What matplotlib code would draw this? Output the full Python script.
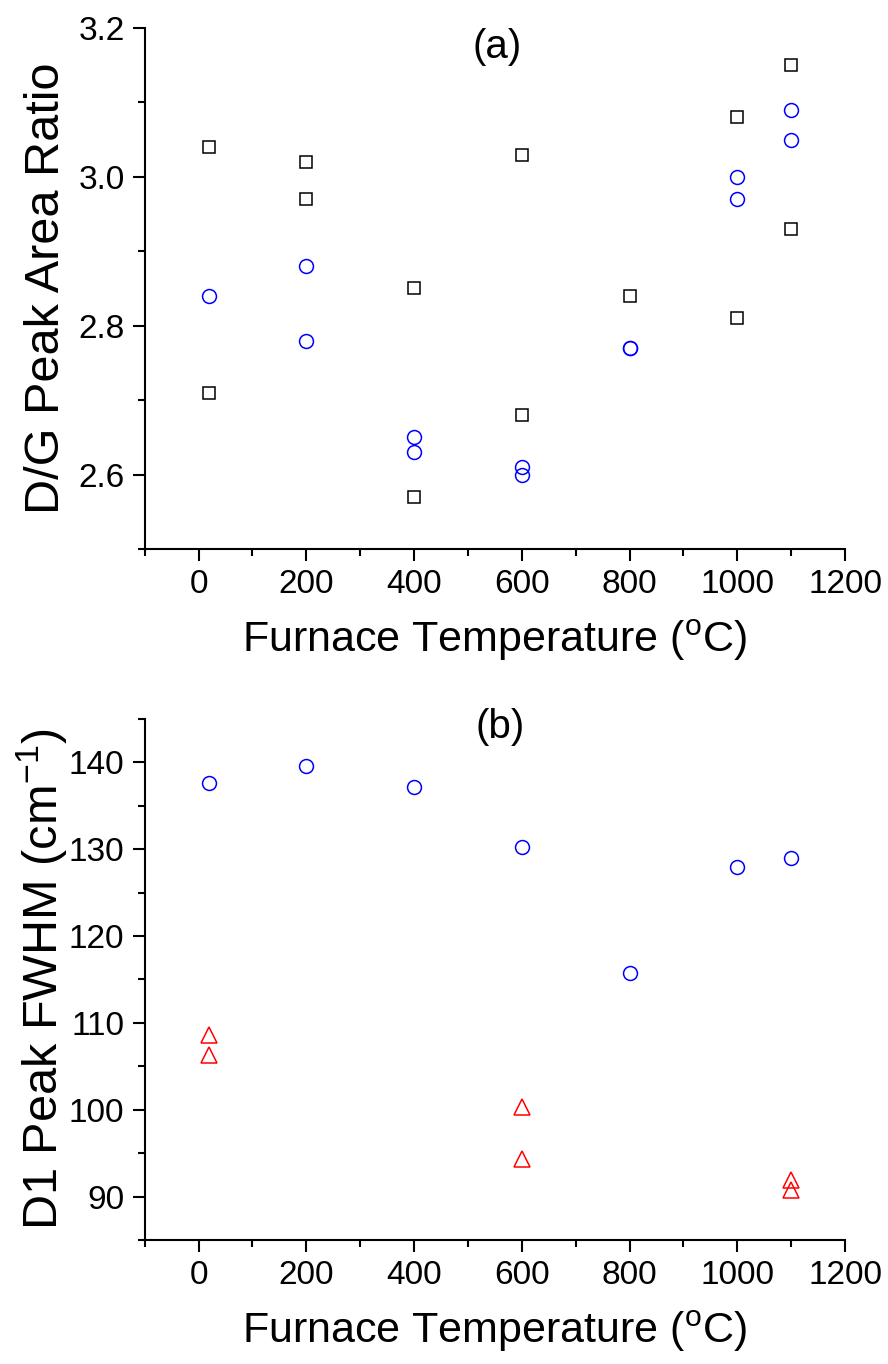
import numpy as np
import matplotlib
matplotlib.use("Agg")
import matplotlib.pyplot as plt
from matplotlib import font_manager
from matplotlib.ticker import MultipleLocator

plt.rcParams["font.family"] = ["Liberation Sans", "DejaVu Sans"]
plt.rcParams["mathtext.fontset"] = "custom"
plt.rcParams["mathtext.rm"] = "Liberation Sans"
plt.rcParams["mathtext.it"] = "Liberation Sans:italic"

# --- panel (a) : D/G peak area ratio ---
a_sq_x = [20, 20, 200, 200, 400, 400, 600, 600, 800, 1000, 1000, 1100, 1100]
a_sq_y = [3.04, 2.71, 3.02, 2.97, 2.85, 2.57, 3.03, 2.68, 2.84, 3.08, 2.81, 3.15, 2.93]
a_ci_x = [20, 200, 200, 400, 400, 600, 600, 800, 800, 1000, 1000, 1100, 1100]
a_ci_y = [2.84, 2.88, 2.78, 2.65, 2.63, 2.61, 2.60, 2.77, 2.77, 3.00, 2.97, 3.09, 3.05]

# --- panel (b) : D1 peak FWHM ---
b_ci_x = [20, 200, 400, 600, 800, 1000, 1100]
b_ci_y = [137.6, 139.6, 137.2, 130.2, 115.8, 127.9, 129.0]
b_tr_x = [20, 20, 600, 600, 1100, 1100]
b_tr_y = [108.6, 106.3, 100.3, 94.3, 91.9, 90.8]

# x titles look tall/narrow in the original: use the narrow face if present
names = {f.name for f in font_manager.fontManager.ttflist}
if "Liberation Sans Narrow" in names:
    xlab_font, xlab_size = "Liberation Sans Narrow", 36
else:
    xlab_font, xlab_size = "Liberation Sans", 31
XLABEL = r"Furnace Temperature ($^{\mathrm{o}}$C)"

fig = plt.figure(figsize=(8.88, 13.64), dpi=100)
ax1 = fig.add_axes([0.163, 0.5975, 0.7886, 0.382])
ax2 = fig.add_axes([0.163, 0.0909, 0.7886, 0.382])

ax1.plot(a_sq_x, a_sq_y, "s", ms=8.7, mfc="none", mec="black", mew=1.1)
ax1.plot(a_ci_x, a_ci_y, "o", ms=10, mfc="none", mec="blue", mew=1.1)
ax1.set_ylim(2.5, 3.2)
ax1.yaxis.set_minor_locator(MultipleLocator(0.1))
ax1.set_yticks([2.6, 2.8, 3.0, 3.2])
ax1.set_ylabel("D/G Peak Area Ratio", fontsize=35)

ax2.plot(b_ci_x, b_ci_y, "o", ms=10, mfc="none", mec="blue", mew=1.1)
ax2.plot(b_tr_x, b_tr_y, "^", ms=11.3, mfc="none", mec="red", mew=1.1)
ax2.set_ylim(85, 145)
ax2.yaxis.set_minor_locator(MultipleLocator(5))
ax2.set_yticks([90, 100, 110, 120, 130, 140])
ax2.set_ylabel(r"D1 Peak FWHM (cm$^{\mathrm{-1}}$)", fontsize=35)

for ax in (ax1, ax2):
    ax.set_xlim(-100, 1200)
    ax.xaxis.set_minor_locator(MultipleLocator(100))
    ax.set_xticks([0, 200, 400, 600, 800, 1000, 1200])
    ax.set_xlabel(XLABEL, fontsize=xlab_size, family=[xlab_font, "Liberation Sans"])
    ax.xaxis.label.set_va("center")
    ax.xaxis.set_label_coords(0.5, -0.176)
    ax.yaxis.label.set_va("center")
    for s in ("top", "right"):
        ax.spines[s].set_visible(False)
    for s in ("left", "bottom"):
        ax.spines[s].set_linewidth(1.5)
    ax.tick_params(which="major", direction="out", length=8.6, width=1.5,
                   labelsize=24, pad=6)
    ax.tick_params(which="minor", direction="out", length=5, width=1.5)

ax1.yaxis.set_label_coords(-0.140, 0.5)
ax2.yaxis.set_label_coords(-0.146, 0.5)

fig.text(497 / 888, 1 - 47 / 1364, "(a)", fontsize=29, ha="center", va="center")
fig.text(500 / 888, 1 - 727 / 1364, "(b)", fontsize=29, ha="center", va="center")

fig.savefig("out.png", dpi=100)
